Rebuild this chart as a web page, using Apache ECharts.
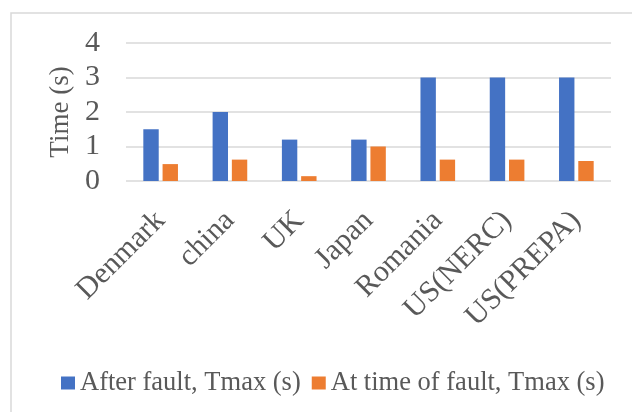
<!DOCTYPE html>
<html>
<head>
<meta charset="utf-8">
<script src="https://cdn.jsdelivr.net/npm/echarts@6/dist/echarts.min.js"></script>
<style>html,body{margin:0;padding:0;background:#fff}#c{width:632px;height:412px}</style>
</head>
<body>
<div id="c"></div>
<script>
var categories = ['Denmark', 'china', 'UK', 'Japan', 'Romania', 'US(NERC)', 'US(PREPA)'];
var afterFault = [1.5, 2.0, 1.2, 1.2, 3.0, 3.0, 3.0];
var atFault = [0.49, 0.62, 0.14, 1.0, 0.62, 0.62, 0.58];
var seriesNames = ['After fault, Tmax (s)', 'At time of fault, Tmax (s)'];
var yTicks = [0, 1, 2, 3, 4];

var chart = echarts.init(document.getElementById('c'), null, {renderer: 'canvas'});
var font = '"Liberation Serif", "Times New Roman", serif';
var txt = '#595959';
chart.setOption({
  animation: false,
  backgroundColor: '#fff',
  color: ['#4472C4', '#ED7D31'],
  graphic: [{
    type: 'rect', shape: {x: 11, y: 13, width: 640, height: 420},
    style: {fill: 'none', stroke: '#d9d9d9', lineWidth: 1.5}, silent: true
  }],
  grid: {left: 126, right: 21, top: 43, bottom: 231},
  legend: {
    left: 56, top: 364, itemWidth: 14, itemHeight: 13, itemGap: 11,
    icon: 'rect',
    textStyle: {fontFamily: font, fontSize: 26.5, lineHeight: 28, color: txt},
    data: seriesNames
  },
  xAxis: {
    type: 'category', data: categories,
    axisLine: {show: false}, axisTick: {show: false},
    axisLabel: {rotate: 45, interval: 0, margin: 35, padding: [40, 0, 0, 0],
      fontFamily: font, fontSize: 30, color: txt}
  },
  yAxis: {
    type: 'value', min: yTicks[0], max: yTicks[yTicks.length - 1], interval: 1,
    name: 'Time (s)', nameLocation: 'middle', nameGap: 51,
    nameTextStyle: {fontFamily: font, fontSize: 27, color: txt},
    axisLine: {show: false}, axisTick: {show: false},
    axisLabel: {margin: 26, fontFamily: font, fontSize: 30, color: txt},
    splitLine: {lineStyle: {color: '#d9d9d9', width: 1.5}}
  },
  series: [
    {name: seriesNames[0], type: 'bar', data: afterFault, barGap: '25%', barCategoryGap: '50%'},
    {name: seriesNames[1], type: 'bar', data: atFault, barGap: '25%', barCategoryGap: '50%'}
  ]
});
</script>
</body>
</html>
